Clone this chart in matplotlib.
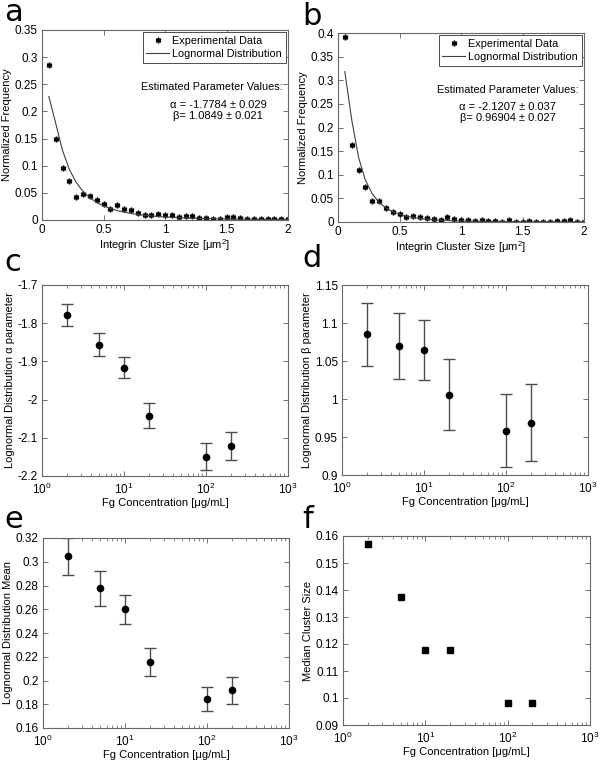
import matplotlib.pyplot as plt
import numpy as np
from matplotlib.ticker import FuncFormatter

plt.rcParams['font.family'] = ['Liberation Sans', 'DejaVu Sans']
plt.rcParams['font.size'] = 8
plt.rcParams['mathtext.default'] = 'regular'

# cluster size histograms (panels a, b), bins of 1/18 um^2
bin_k = np.arange(1, 37)
freq_a = [0.285, 0.149, 0.096, 0.071, 0.043, 0.048, 0.045, 0.037, 0.030,
          0.020, 0.027, 0.021, 0.019, 0.013, 0.009, 0.009, 0.011, 0.010,
          0.009, 0.005, 0.007, 0.007, 0.003, 0.004, 0.002, 0.0025, 0.006,
          0.005, 0.003, 0.002, 0.002, 0.002, 0.002, 0.0015, 0.0025, 0.002]
freq_b = [0.392, 0.163, 0.111, 0.074, 0.045, 0.045, 0.030, 0.021, 0.017,
          0.011, 0.012, 0.010, 0.009, 0.007, 0.005, 0.011, 0.007, 0.004,
          0.005, 0.003, 0.005, 0.0015, 0.0015, 0.001, 0.0035, 0.0005, 0.0002,
          0.002, 0.001, 0.001, 0.001, 0.0015, 0.002, 0.0035, 0.001, 0.001]

# lognormal fit curves read at selected bins
fit_k = [1, 2, 3, 4, 5, 6, 7, 8, 9, 10, 11, 12, 13, 14, 15, 16, 17, 18,
         20, 22, 24, 27, 30, 33, 36]
fit_a = [0.2275, 0.1785, 0.1282, 0.0931, 0.0692, 0.0527, 0.0409, 0.0323,
         0.0259, 0.0211, 0.0173, 0.0144, 0.0121, 0.0102, 0.0087, 0.0075,
         0.0064, 0.0056, 0.0043, 0.0033, 0.0026, 0.0019, 0.0014, 0.0010,
         0.0008]
fit_b = [0.3180, 0.2171, 0.1371, 0.0889, 0.0599, 0.0416, 0.0298, 0.0218,
         0.0163, 0.0125, 0.0097, 0.0076, 0.0060, 0.0048, 0.0039, 0.0032,
         0.0027, 0.0022, 0.0016, 0.0011, 0.0008, 0.0005, 0.0004, 0.0003,
         0.0002]

# fibrinogen concentration series (panels c-f)
conc = [2, 5, 10, 20, 100, 200]
alpha = [-1.7784, -1.856, -1.916, -2.042, -2.149, -2.1207]
alpha_err = [0.029, 0.030, 0.028, 0.033, 0.035, 0.037]
beta = [1.0849, 1.0700, 1.0645, 1.0055, 0.9583, 0.96904]
beta_err = [0.042, 0.0437, 0.0395, 0.0467, 0.0478, 0.051]
mean = [0.3045, 0.2775, 0.2598, 0.2155, 0.1843, 0.1918]
mean_err = [0.0155, 0.0144, 0.0121, 0.0117, 0.010, 0.0114]
median = [0.157, 0.1373, 0.1177, 0.1177, 0.0982, 0.0982]

fmt_g = FuncFormatter(lambda v, p: '%g' % round(v, 6))


def matlab_box(ax, logx=False):
    ax.tick_params(which='both', direction='in', top=True, right=True,
                   colors='0.35', labelcolor='black', labelsize=8.5)
    ax.tick_params(axis='y', pad=3)
    ax.tick_params(axis='x', pad=4 if logx else 3)
    ax.tick_params(which='major', length=3.5, width=0.6)
    ax.tick_params(which='minor', length=2, width=0.5)
    for s in ax.spines.values():
        s.set_linewidth(0.8)
        s.set_color('0.4')
    ax.yaxis.set_major_formatter(fmt_g)
    if logx:
        ax.set_xscale('log')
        ax.set_xlim(1, 1000)
        ax.set_xlabel('Fg Concentration [μg/mL]', labelpad=1)
    else:
        ax.xaxis.set_major_formatter(fmt_g)


fig = plt.figure(figsize=(6, 7.66), dpi=100)
H = 766.0


def box(l, t, r, b):
    return fig.add_axes([l / 600.0, 1 - b / H, (r - l) / 600.0, (b - t) / H])


ax_a = box(42, 30, 288, 220)
ax_b = box(338, 33, 584, 222)
ax_c = box(42, 285, 288, 476)
ax_d = box(342, 285, 588, 475)
ax_e = box(43, 538, 289, 728)
ax_f = box(343, 536, 590, 725)

hist_panels = [
    (ax_a, freq_a, fit_a, 0.35, '-1.7784', '0.029', '1.0849', '0.021', 0.715),
    (ax_b, freq_b, fit_b, 0.4, '-2.1207', '0.037', '0.96904', '0.027', 0.69),
]
for ax, freq, fit, ytop, a, da, b, db, cx in hist_panels:
    ax.plot(bin_k / 18.0, freq, marker=(6, 2, 0), ls='none', color='black',
            ms=4, mew=1.1, label='Experimental Data')
    ax.plot(np.array(fit_k) / 18.0, fit, '-', color='0.25', lw=0.8,
            label='Lognormal Distribution')
    matlab_box(ax)
    ax.set_xlim(0, 2)
    ax.set_ylim(0, ytop)
    ax.set_xticks([0, 0.5, 1, 1.5, 2])
    ax.set_yticks(np.arange(0, ytop + 0.001, 0.05))
    ax.set_xlabel('Integrin Cluster Size [μm$^2$]', labelpad=1)
    ax.set_ylabel('Normalized Frequency', labelpad=2)
    leg = ax.legend(loc='upper right', fancybox=False, framealpha=1,
                    borderpad=0.35, handlelength=2.1, handletextpad=0.3,
                    labelspacing=0.3, borderaxespad=0.2, fontsize=7.8)
    leg.get_frame().set_edgecolor('0.3')
    leg.get_frame().set_linewidth(0.7)
    ax.text(0.98, 0.70, 'Estimated Parameter Values:', transform=ax.transAxes,
            ha='right', va='center', fontsize=7.8)
    ax.text(cx, 0.607, 'α = %s ± %s' % (a, da), transform=ax.transAxes,
            ha='center', va='center', fontsize=8)
    ax.text(cx, 0.548, 'β= %s ± %s' % (b, db), transform=ax.transAxes,
            ha='center', va='center', fontsize=8)

err_panels = [
    (ax_c, alpha, alpha_err, (-2.2, -1.7), 0.1, 'Lognormal Distribution α parameter'),
    (ax_d, beta, beta_err, (0.9, 1.15), 0.05, 'Lognormal Distribution β parameter'),
    (ax_e, mean, mean_err, (0.16, 0.32), 0.02, 'Lognormal Distribution Mean'),
]
for ax, val, err, lim, step, lab in err_panels:
    ax.errorbar(conc, val, yerr=err, fmt='o', color='black', ms=4.5,
                ecolor='0.3', elinewidth=1, capsize=4, capthick=1)
    matlab_box(ax, logx=True)
    ax.set_ylim(*lim)
    ax.set_yticks(np.arange(lim[0], lim[1] + step / 2, step))
    ax.set_ylabel(lab, labelpad=2)

ax_f.plot(conc, median, 's', color='black', ms=4.5)
matlab_box(ax_f, logx=True)
ax_f.set_ylim(0.09, 0.16)
ax_f.set_yticks(np.arange(0.09, 0.1605, 0.01))
ax_f.set_ylabel('Median Cluster Size', labelpad=2)

for letter, x, y in [('a', 4, 21), ('b', 302, 25), ('c', 4, 271),
                     ('d', 302, 267), ('e', 4, 528), ('f', 302, 528)]:
    fig.text(x / 600.0, 1 - y / H, letter, fontsize=22, va='baseline',
             family='DejaVu Sans')

fig.savefig('out.png', dpi=100)
